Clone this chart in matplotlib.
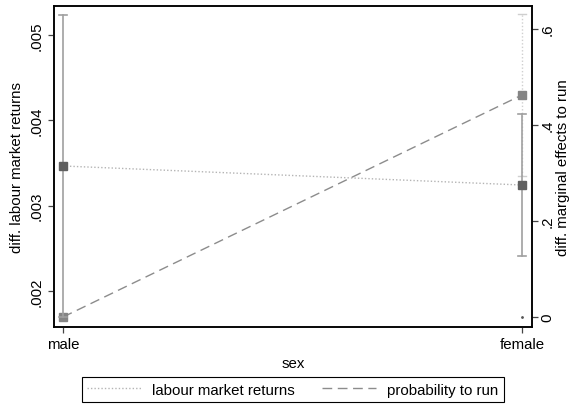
import matplotlib
matplotlib.use('Agg')
from matplotlib import pyplot as plt

sexes = ['male', 'female']

# differences in labour market returns (left axis)
labour = [0.003465, 0.003242]
labour_lo = [0.001692, 0.002410]
labour_hi = [0.005238, 0.004074]

# differences in marginal effects to run (right axis)
prob = [0.0, 0.4625]
prob_lo = [0.0, 0.294]
prob_hi = [0.0, 0.631]

plt.rcParams['font.family'] = ['Liberation Sans', 'DejaVu Sans']
plt.rcParams['font.size'] = 10.8

fig = plt.figure(figsize=(5.71, 4.06), dpi=100)
ax = fig.add_axes([0.0946, 0.1921, 0.8371, 0.7907])
ax2 = ax.twinx()
# labour series sits above the probability series
ax.set_zorder(ax2.get_zorder() + 1)
ax.patch.set_visible(False)

x = list(range(len(sexes)))

# probability to run, right axis
for i in x:
    if prob_hi[i] > prob_lo[i]:
        ax2.plot([i, i], [prob_lo[i], prob_hi[i]], color='#cfcfcf', lw=1.0, ls=(0, (1, 1.5)))
        for v in (prob_lo[i], prob_hi[i]):
            ax2.plot([i - 0.008, i + 0.008], [v, v], color='#cfcfcf', lw=1.0)
ax2.plot(x[1:], prob_lo[:1], ls='none', marker='.', ms=2, color='#555555')
prob_line, = ax2.plot(x, prob, color='#8c8c8c', lw=1.0, ls=(0, (7, 4)),
                      marker='s', ms=6, mfc='#858585', mec='#858585')

# labour market returns, left axis
for i in x:
    ax.plot([i, i], [labour_lo[i], labour_hi[i]], color='#a0a0a0', lw=1.2)
    for v in (labour_lo[i], labour_hi[i]):
        ax.plot([i - 0.008, i + 0.008], [v, v], color='#a0a0a0', lw=1.2)
labour_line, = ax.plot(x, labour, color='#b4b4b4', lw=1.0, ls=(0, (1, 1.5)),
                       marker='s', ms=6, mfc='#606060', mec='#606060')

ax.set_xlim(-0.0196, 1.0218)
ax.set_ylim(0.001578, 0.005340)
ax2.set_ylim(-0.0208, 0.6479)

ax.set_xticks(x)
ax.set_xticklabels(sexes)
ax.set_yticks([0.002, 0.003, 0.004, 0.005])
ax.set_yticklabels(['.002', '.003', '.004', '.005'], rotation=90, va='center')
ax2.set_yticks([0, 0.2, 0.4, 0.6])
ax2.set_yticklabels(['0', '.2', '.4', '.6'], rotation=90, va='center')

for a in (ax, ax2):
    for s in a.spines.values():
        s.set_linewidth(1.1)
        s.set_color('black')
    a.tick_params(length=4.5, width=0.9, color='#444444', pad=3)
ax2.tick_params(pad=1.5)

ax.set_xlabel('sex', labelpad=3)
ax.set_ylabel('diff. labour market returns', labelpad=4)
ax2.set_ylabel('diff. marginal effects to run', labelpad=1)

leg = fig.legend([labour_line, prob_line], ['labour market returns', 'probability to run'],
                 loc='center', bbox_to_anchor=(0.513, 0.038), ncol=2,
                 fancybox=False, edgecolor='black', framealpha=1,
                 handlelength=3.6, columnspacing=1.8, borderpad=0.35,
                 handletextpad=0.75)
leg.get_frame().set_linewidth(0.8)
# legend keys show the connecting lines only
for h in leg.legend_handles:
    h.set_marker('')

fig.savefig('out.png', dpi=100)
